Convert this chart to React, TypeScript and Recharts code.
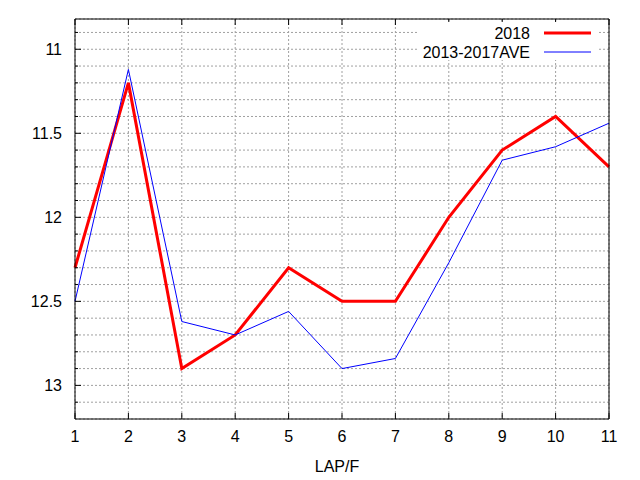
import React from 'react';
import { LineChart, Line, XAxis, YAxis, CartesianGrid, Legend, Label } from 'recharts';

const laps = [1, 2, 3, 4, 5, 6, 7, 8, 9, 10, 11];
const series2018 = [12.3, 11.2, 12.9, 12.7, 12.3, 12.5, 12.5, 12.0, 11.6, 11.4, 11.7];
const seriesAve = [12.5, 11.12, 12.62, 12.7, 12.56, 12.9, 12.84, 12.27, 11.66, 11.58, 11.44];
const yTicks = [10.9, 11.0, 11.1, 11.2, 11.3, 11.4, 11.5, 11.6, 11.7, 11.8, 11.9, 12.0, 12.1, 12.2, 12.3, 12.4, 12.5, 12.6, 12.7, 12.8, 12.9, 13.0, 13.1];
const yMajorLabels = ['11', '11.5', '12', '12.5', '13'];
const xTicks = laps;
const seriesNames = ['2018', '2013-2017AVE'];
const seriesColors = ['#ff0000', '#0000ff'];
const seriesWidths = [3, 1];

const data = laps.map((lap, i) => ({ lap, s2018: series2018[i], ave: seriesAve[i] }));

const FONT = '"Liberation Sans", Arial, sans-serif';
const FS = 16;
const isMajor = (v: number) => Math.abs(v * 2 - Math.round(v * 2)) < 1e-6;
const majorLabel = (v: number) => {
  const s = String(Math.round(v * 10) / 10);
  return yMajorLabels.includes(s) ? s : '';
};

const LeftTick = (props: any) => {
  const { x, y, payload } = props;
  const v = payload.value;
  const major = isMajor(v);
  const axisX = x + 13;
  return (
    <g>
      <line x1={axisX} x2={axisX + (major ? 6 : 3)} y1={y} y2={y} stroke="#000" strokeWidth={1} />
      {major && (
        <text x={x} y={y} dy="0.355em" textAnchor="end" fontSize={FS} fontFamily={FONT} fill="#000">
          {majorLabel(v)}
        </text>
      )}
    </g>
  );
};

const RightTick = (props: any) => {
  const { x, y, payload } = props;
  const major = isMajor(payload.value);
  return <line x1={x - (major ? 6 : 3)} x2={x} y1={y} y2={y} stroke="#000" strokeWidth={1} />;
};

const BottomTick = (props: any) => {
  const { x, y, payload } = props;
  const axisY = y - 12;
  return (
    <g>
      <line x1={x} x2={x} y1={axisY} y2={axisY - 6} stroke="#000" strokeWidth={1} />
      <text x={x} y={y} dy="0.71em" textAnchor="middle" fontSize={FS} fontFamily={FONT} fill="#000">
        {payload.value}
      </text>
    </g>
  );
};

const TopTick = (props: any) => {
  const { x, y } = props;
  return <line x1={x} x2={x} y1={y} y2={y + 6} stroke="#000" strokeWidth={1} />;
};

const LegendBox = () => (
  <div style={{ width: 180, height: 38, background: '#fff' }}>
    <svg width={180} height={38} style={{ display: 'block' }}>
      {seriesNames.map((name, i) => {
        const cy = 11 + i * 19;
        return (
          <g key={name}>
            <text x={112} y={cy} dy="0.355em" textAnchor="end" fontSize={FS} fontFamily={FONT} fill="#000">
              {name}
            </text>
            <line x1={126} x2={173} y1={cy} y2={cy} stroke={seriesColors[i]} strokeWidth={seriesWidths[i]} />
          </g>
        );
      })}
    </svg>
  </div>
);

export default function App() {
  return (
    <div style={{ position: 'absolute', left: 0, top: 0, width: 640, height: 480, background: '#fff' }}>
      <LineChart width={640} height={480} data={data} margin={{ top: 0, right: 0, bottom: 0, left: 0 }}>
        <CartesianGrid stroke="#a0a0a0" strokeDasharray="2 2" strokeWidth={1} />
        <XAxis
          dataKey="lap"
          type="number"
          domain={[1, 11]}
          ticks={xTicks}
          interval={0}
          height={61}
          tickSize={0}
          tickMargin={12}
          axisLine={{ stroke: '#000', strokeWidth: 1 }}
          tickLine={false}
          tick={(p: any) => <BottomTick {...p} />}
        >
          <Label value="LAP/F" position="insideBottom" offset={8} dx={-5} fontSize={FS} fontFamily={FONT} fill="#000" />
        </XAxis>
        <XAxis
          xAxisId="top"
          orientation="top"
          dataKey="lap"
          type="number"
          domain={[1, 11]}
          ticks={xTicks}
          interval={0}
          height={19}
          tickSize={0}
          tickMargin={0}
          axisLine={{ stroke: '#000', strokeWidth: 1 }}
          tickLine={false}
          tick={(p: any) => <TopTick {...p} />}
        />
        <YAxis
          type="number"
          reversed
          domain={[10.82, 13.2]}
          ticks={yTicks}
          interval={0}
          width={75}
          tickSize={0}
          tickMargin={13}
          axisLine={{ stroke: '#000', strokeWidth: 1 }}
          tickLine={false}
          tick={(p: any) => <LeftTick {...p} />}
        />
        <YAxis
          yAxisId="right"
          orientation="right"
          type="number"
          reversed
          domain={[10.82, 13.2]}
          ticks={yTicks}
          interval={0}
          width={31}
          tickSize={0}
          tickMargin={0}
          axisLine={{ stroke: '#000', strokeWidth: 1 }}
          tickLine={false}
          tick={(p: any) => <RightTick {...p} />}
        />
        <Line
          dataKey="s2018"
          name={seriesNames[0]}
          stroke={seriesColors[0]}
          strokeWidth={seriesWidths[0]}
          dot={false}
          activeDot={false}
          type="linear"
          isAnimationActive={false}
        />
        <Line
          dataKey="ave"
          name={seriesNames[1]}
          stroke={seriesColors[1]}
          strokeWidth={seriesWidths[1]}
          dot={false}
          activeDot={false}
          type="linear"
          isAnimationActive={false}
        />
        <Legend
          layout="horizontal"
          verticalAlign="middle"
          align="center"
          content={() => <LegendBox />}
          wrapperStyle={{ position: 'absolute', left: 418, top: 22, width: 180, height: 38 }}
        />
      </LineChart>
    </div>
  );
}
